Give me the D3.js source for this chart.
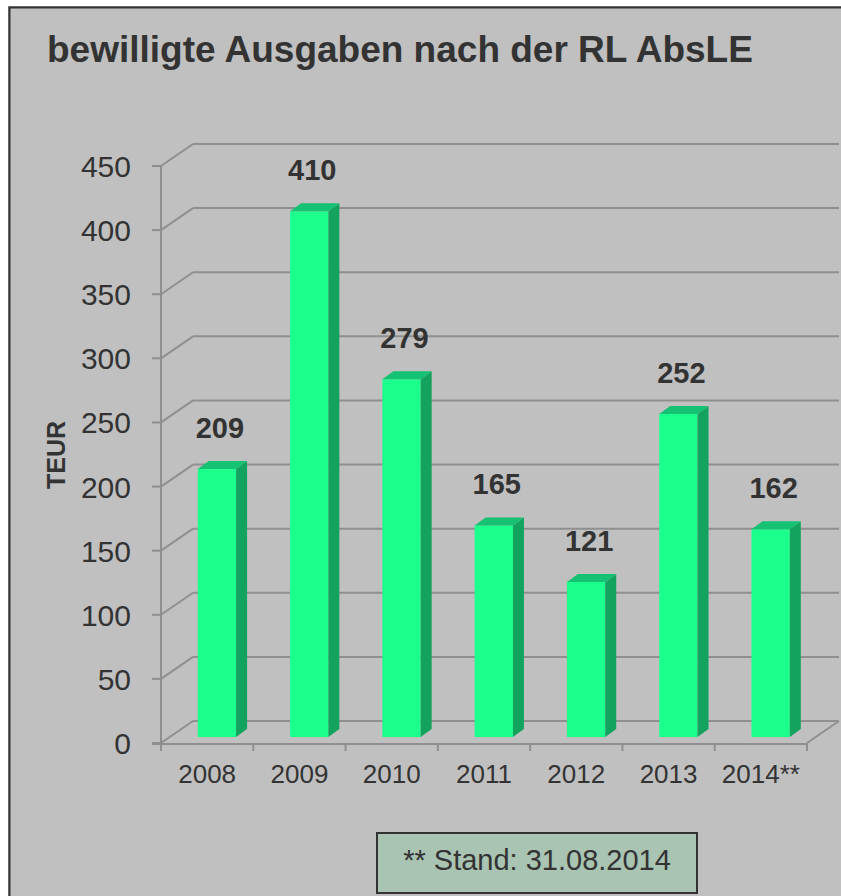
<!DOCTYPE html>
<html><head><meta charset="utf-8">
<script src="https://cdn.jsdelivr.net/npm/d3@7"></script>
<style>html,body{margin:0;padding:0;background:#fff;overflow:hidden;}svg{display:block;}</style>
</head><body>
<script>
const categories = ["2008","2009","2010","2011","2012","2013","2014**"];
const values = [209,410,279,165,121,252,162];
const yTicks = [0,50,100,150,200,250,300,350,400,450];
const titleText = "bewilligte Ausgaben nach der RL AbsLE";
const yTitle = "TEUR";
const footnote = "** Stand: 31.08.2014";

const W = 841, H = 896;
const font = "Arial, 'Liberation Sans', sans-serif";
const svg = d3.select("body").append("svg").attr("width", W).attr("height", H);

// frame (right and bottom edges lie outside the picture)
svg.append("rect").attr("x", 0).attr("y", 0).attr("width", W).attr("height", H).attr("fill", "#fff");
svg.append("path").attr("d", `M${W + 5},7.5 L9.5,7.5 L9.5,${H + 5}`)
  .attr("fill", "none").attr("stroke", "#333").attr("stroke-width", 2.5);
svg.append("rect").attr("x", 10.75).attr("y", 8.75).attr("width", W).attr("height", H)
  .attr("fill", "#c0c0c0");

svg.append("text").attr("x", 47).attr("y", 62).text(titleText)
  .attr("font-family", font).attr("font-weight", "bold").attr("font-size", 37).attr("fill", "#333");

const x = d3.scaleBand().domain(categories).range([161, 807]).padding(0);
const y = d3.scaleLinear().domain([0, 450]).range([743, 166]);
const DX = 32, DY = -22;       // wall depth
const gridColor = "#8f8f8f";

const g = svg.append("g");
// back wall gridlines
g.selectAll("line.grid").data(yTicks).join("line")
  .attr("x1", 161 + DX).attr("x2", 807 + DX)
  .attr("y1", d => y(d) + DY).attr("y2", d => y(d) + DY)
  .attr("stroke", gridColor).attr("stroke-width", 2);
// side wall diagonals
g.selectAll("line.side").data(yTicks).join("line")
  .attr("x1", 161).attr("x2", 161 + DX)
  .attr("y1", d => y(d)).attr("y2", d => y(d) + DY)
  .attr("stroke", gridColor).attr("stroke-width", 2);
// floor right diagonal
g.append("line").attr("x1", 807).attr("y1", y(0)).attr("x2", 807 + DX).attr("y2", y(0) + DY)
  .attr("stroke", gridColor).attr("stroke-width", 2);

// bars
const depthFrac = 0.27;
const bx0 = DX * depthFrac, by0 = DY * depthFrac;
const BD = 11, BDY = -8;
const bars = g.selectAll("g.bar").data(values).join("g");
bars.each(function(v, i) {
  const gg = d3.select(this);
  const xl = x(categories[i]) + x.bandwidth() * 0.305 + bx0;
  const w = x.bandwidth() * 0.415;
  const yb = y(0) + by0, yt = y(v) + by0;
  gg.append("rect").attr("x", xl).attr("y", yt).attr("width", w).attr("height", yb - yt).attr("fill", "#1bff8d");
  gg.append("path").attr("d", `M${xl + w},${yt} L${xl + w + BD},${yt + BDY} L${xl + w + BD},${yb + BDY} L${xl + w},${yb} Z`).attr("fill", "#13a35e");
  gg.append("path").attr("d", `M${xl},${yt} L${xl + BD},${yt + BDY} L${xl + w + BD},${yt + BDY} L${xl + w},${yt} Z`).attr("fill", "#15c173");
  gg.append("text").attr("x", xl + w / 2 + 3).attr("y", yt - 31).attr("text-anchor", "middle")
    .text(v).attr("font-family", font).attr("font-weight", "bold").attr("font-size", 29).attr("fill", "#333");
});

// front axes
g.append("line").attr("x1", 161).attr("x2", 161).attr("y1", y(450)).attr("y2", y(0) + 2)
  .attr("stroke", gridColor).attr("stroke-width", 2);
g.append("line").attr("x1", 152).attr("x2", 807).attr("y1", y(0) + 1).attr("y2", y(0) + 1)
  .attr("stroke", gridColor).attr("stroke-width", 2);
g.selectAll("line.yt").data(yTicks).join("line")
  .attr("x1", 152).attr("x2", 161).attr("y1", d => y(d)).attr("y2", d => y(d))
  .attr("stroke", gridColor).attr("stroke-width", 2);
const xb = categories.map(c => x(c)).concat([807]);
g.selectAll("line.xt").data(xb).join("line")
  .attr("x1", d => d).attr("x2", d => d).attr("y1", y(0)).attr("y2", y(0) + 8)
  .attr("stroke", gridColor).attr("stroke-width", 2);

g.selectAll("text.yl").data(yTicks).join("text")
  .attr("x", 131).attr("y", d => y(d) + 11).attr("text-anchor", "end").text(d => d)
  .attr("font-family", font).attr("font-size", 30).attr("fill", "#333");
g.selectAll("text.xl").data(categories).join("text")
  .attr("x", d => x(d) + x.bandwidth() / 2).attr("y", 783).attr("text-anchor", "middle").text(d => d)
  .attr("font-family", font).attr("font-size", 26).attr("fill", "#333");

svg.append("text").attr("transform", "translate(65,455) rotate(-90)").attr("text-anchor", "middle")
  .text(yTitle).attr("font-family", font).attr("font-weight", "bold").attr("font-size", 25).attr("fill", "#333");

// footnote
svg.append("rect").attr("x", 377).attr("y", 833).attr("width", 320).attr("height", 60)
  .attr("fill", "#a9c4b2").attr("stroke", "#333").attr("stroke-width", 2);
svg.append("text").attr("x", 537).attr("y", 870).attr("text-anchor", "middle").text(footnote)
  .attr("font-family", font).attr("font-size", 29).attr("fill", "#333");
</script>
</body></html>
